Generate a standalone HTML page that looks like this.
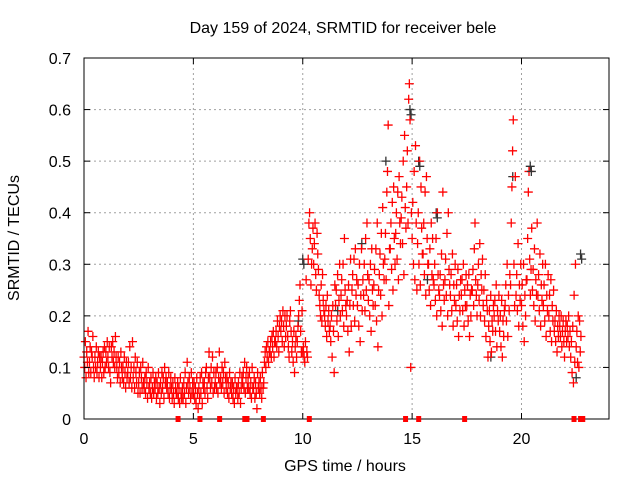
<!DOCTYPE html>
<html><head><meta charset="utf-8"><style>
body{margin:0;background:#fff}
svg{display:block;font-family:"Liberation Sans",sans-serif}
</style></head><body>
<svg id="c" width="640" height="480">
<text x="343" y="33" text-anchor="middle" font-size="16">Day 159 of 2024, SRMTID for receiver bele</text>
<text x="345" y="471" text-anchor="middle" font-size="16">GPS time / hours</text>
<text transform="translate(19,238) rotate(-90)" text-anchor="middle" font-size="16">SRMTID / TECUs</text>
<g id="grid"></g><g id="marks"></g><g id="axes"></g>
</svg>
<script>
const xTicks=[0,5,10,15,20];
const yTicks=[0,0.1,0.2,0.3,0.4,0.5,0.6,0.7];
const binStart=[0,0.25,0.5,0.75,1,1.25,1.5,1.75,2,2.25,2.5,2.75,3,3.25,3.5,3.75,4,4.25,4.5,4.75,5,5.25,5.5,5.75,6,6.25,6.5,6.75,7,7.25,7.5,7.75,8,8.25,8.5,8.75,9,9.25,9.5,9.75,10,10.25,10.5,10.75,11,11.25,11.5,11.75,12,12.25,12.5,12.75,13,13.25,13.5,13.75,14,14.25,14.5,14.75,15,15.25,15.5,15.75,16,16.25,16.5,16.75,17,17.25,17.5,17.75,18,18.25,18.5,18.75,19,19.25,19.5,19.75,20,20.25,20.5,20.75,21,21.25,21.5,21.75,22,22.25,22.5];
const binValues=[
"12 10 15 8 13 11 17 9","11 14 9 13 12 16 10 8","12 10 14 9 11 13 8 12","10 12 8 11 13 9 14 10",
"13 11 15 12 10 14 9 7","14 12 15 11 13 10 16 12","10 8 12 9 11 7 13 10","8 10 7 12 9 6 11 8",
"9 11 7 14 8 10 6 15","8 10 6 12 9 7 11 5","7 9 5 10 8 6 11 7","6 8 5 9 7 4 10 6",
"7 5 8 4 6 9 5 7","6 8 4 7 5 9 6 3","7 5 9 6 8 4 10 7","8 6 7 5 9 4 6 8",
"6 4 7 5 3 8 6 5","5 7 4 6 3 8 5 4","6 4 7 5 9 3 6 11","7 5 8 6 4 9 5 7",
"5 7 4 6 3 8 5 2","6 4 8 5 9 3 7 6","7 5 9 10 6 4 8 13","8 6 10 7 12 5 9 6",
"7 9 6 10 5 8 13 7","8 6 10 7 9 5 11 8","6 8 5 7 4 9 6 7","5 7 4 6 3 8 5 6",
"6 4 7 5 9 3 6 8","7 9 6 11 5 8 10 6","8 6 9 5 7 4 10 6","6 8 4 7 5 2 9 6",
"7 5 8 6 4 9 6 7","11 13 10 14 12 15 11 13","13 15 12 16 14 17 12 15","15 17 14 19 16 13 18 20",
"17 19 15 21 18 14 20 16","18 20 16 14 12 19 21 17","13 15 11 17 9 14 16 12","15 18 20 23 26 17 13 21",
"13 14 12 11 15 27 13 12","31 38 40 35 26 30 33 37","30 34 38 28 25 36 32 29","24 22 20 26 19 28 23 21",
"20 18 22 16 24 19 21 17","18 15 20 12 22 17 9 26","22 25 19 28 16 23 30 20","24 27 21 30 18 35 25 22",
"20 23 17 26 13 22 31 18","25 28 22 31 19 33 24 27","22 26 18 30 15 24 33 21","27 24 30 21 35 25 38 28",
"23 27 20 30 17 33 25 22","26 29 22 33 19 38 14 25","28 32 24 36 20 41 30 27","31 36 27 44 48 57 22 33",
"33 38 29 42 25 45 35 30","36 40 31 44 27 47 38 34","39 43 34 50 28 55 41 37","45 52 38 62 65 58 10 40",
"35 42 30 48 27 53 38 25","34 40 30 50 26 45 37 32","32 38 28 44 24 47 35 30","30 25 33 22 38 28 35 27",
"26 30 23 35 20 40 28 25","24 28 21 32 18 44 26 23","27 31 24 36 20 40 29 26","24 28 21 32 18 26 23 30",
"22 26 19 29 16 24 21 27","24 27 21 30 18 25 22 28","22 26 19 28 16 24 20 25","25 29 22 33 38 27 24 20",
"26 30 23 34 20 28 25 31","22 25 19 28 16 23 21 12","18 21 15 24 13 19 17 22","20 23 17 26 14 21 19 24",
"17 20 14 23 12 19 16 21","22 26 19 30 16 24 21 28","26 38 45 52 58 30 22 47","24 28 21 34 18 26 23 30",
"22 26 18 30 15 24 20 27","27 35 44 48 31 24 29 37","25 29 22 33 19 27 24 38","24 28 21 32 18 26 23 30",
"22 26 19 30 16 24 21 28","20 24 17 27 15 22 19 25","17 19 15 21 13 18 16 20","18 16 20 14 17 19 15 12",
"17 19 15 18 16 20 14 17","12 15 9 18 7 24 11 30","14 17 11 20 10 19 13 16"];
const blackTimes=[10.0,14.9,15.3,16.1,20.4,22.7,12.7,13.8,18.6,19.6,22.5,15.7,11.6,9.8];
const blackValues=[0.31,0.6,0.5,0.4,0.49,0.32,0.34,0.5,0.12,0.47,0.08,0.27,0.21,0.19];
const gapTimes=[4.3,5.3,6.2,7.35,7.45,8.2,10.3,14.7,15.3,17.4,22.4,22.7,22.8];
const L=84,R=609,T=58,B=419;
const X=h=>L+h/24*(R-L), Y=v=>B-v/0.7*(B-T);
const NS="http://www.w3.org/2000/svg";
function mk(tag,attrs,parent){const e=document.createElementNS(NS,tag);for(const k in attrs)e.setAttribute(k,attrs[k]);parent.appendChild(e);return e;}
const grid=document.getElementById('grid'),marks=document.getElementById('marks'),axes=document.getElementById('axes');
xTicks.forEach(t=>{
  if(t>0){const g=mk('line',{x1:X(t),x2:X(t),y1:T,y2:B,stroke:'#a0a0a0','stroke-dasharray':'2,3'},grid);
  
  }
  const tx=mk('text',{x:X(t),y:B+25,'text-anchor':'middle','font-size':16},axes);tx.textContent=t;
  
  
  mk('line',{x1:X(t),x2:X(t),y1:B,y2:B-6,stroke:'#000'},axes);
  mk('line',{x1:X(t),x2:X(t),y1:T,y2:T+6,stroke:'#000'},axes);
});
yTicks.forEach(v=>{
  if(v>0&&v<0.7){const g=mk('line',{x1:L,x2:R,y1:Y(v),y2:Y(v),stroke:'#a0a0a0','stroke-dasharray':'2,3'},grid);
  
  }
  const tx=mk('text',{x:L-13,y:Y(v)+6,'text-anchor':'end','font-size':16},axes);tx.textContent=v===0?'0':v.toFixed(1);
  
  
  mk('line',{x1:L,x2:L+6,y1:Y(v),y2:Y(v),stroke:'#000'},axes);
  mk('line',{x1:R,x2:R-6,y1:Y(v),y2:Y(v),stroke:'#000'},axes);
});
const fr=mk('rect',{x:L,y:T,width:R-L,height:B-T,fill:'none',stroke:'#000'},axes);


function cross(h,v,col){
  const x=X(h),y=Y(v);
  const p=mk('path',{d:`M${x-4.5},${y}h9M${x},${y-4.5}v9`,stroke:col,'stroke-width':1.3,fill:'none'},marks);
  return p;
}
blackTimes.forEach((h,i)=>{const p=cross(h,blackValues[i],'#333');
  
  });
binStart.forEach((h,i)=>{
  binValues[i].split(' ').forEach((s,k)=>{
    const p=cross(h+k*0.031,Number(s)/100,'#ff0000');
    
    
  });
});
blackTimes.slice(0,6).forEach((h,i)=>{const p=cross(h+0.05,blackValues[i]-0.01,'#333');
  
  });
gapTimes.forEach(h=>{
  const r=mk('rect',{x:X(h)-2.5,y:B-3,width:5,height:6,fill:'#ff0000'},axes);
  
  
});
</script>
</body></html>
